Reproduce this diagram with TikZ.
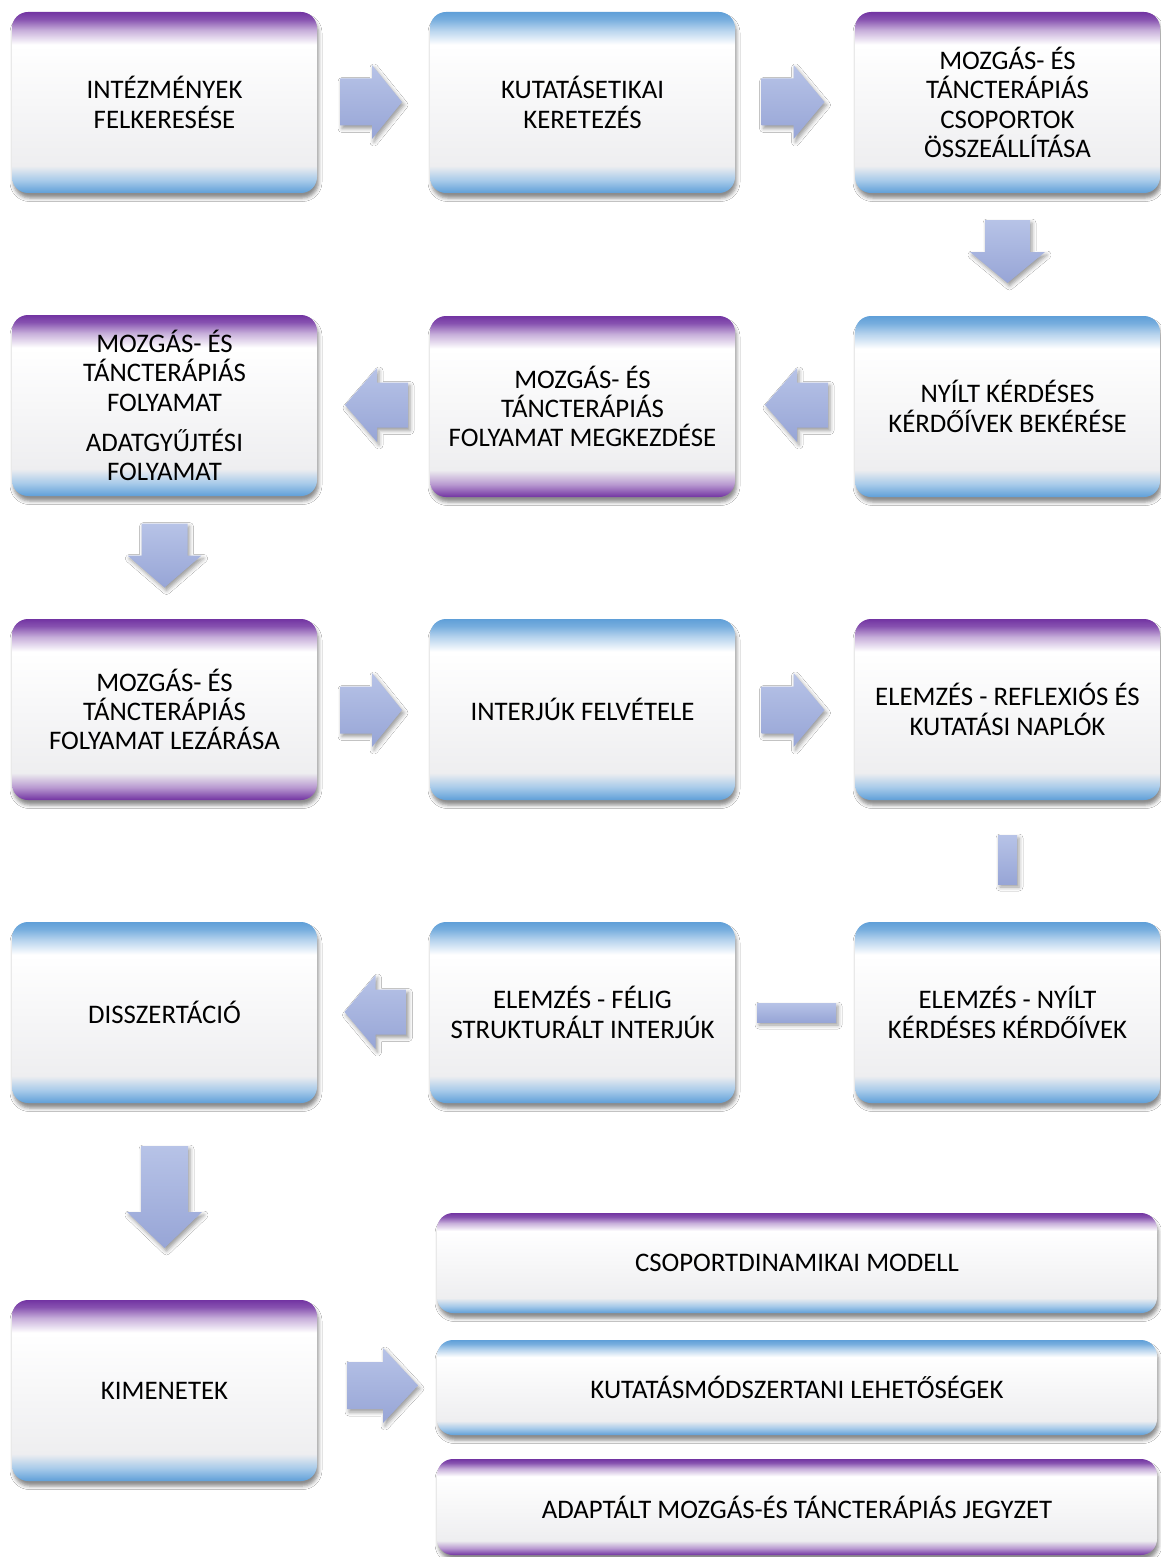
\documentclass[tikz,border=0pt]{standalone}
\usepackage{fontspec}
\setmainfont{Carlito}
\usetikzlibrary{shadows.blur}
\definecolor{cP}{HTML}{7234A2}
\definecolor{cB}{HTML}{5F9FD8}
\definecolor{cMid}{HTML}{EEEEF0}
\definecolor{aTop}{HTML}{B7C3E7}
\definecolor{aBot}{HTML}{97A5D6}
\pgfdeclareverticalshading{shPB}{100bp}{color(0bp)=(cB); color(25bp)=(cB); color(28.5bp)=(cB!55!white); color(32.5bp)=(cMid); color(66bp)=(white); color(70bp)=(cP!40!white); color(73bp)=(cP!85!white); color(75bp)=(cP); color(100bp)=(cP)}
\pgfdeclareverticalshading{shBB}{100bp}{color(0bp)=(cB); color(25bp)=(cB); color(28.5bp)=(cB!55!white); color(32.5bp)=(cMid); color(66bp)=(white); color(70bp)=(cB!45!white); color(73bp)=(cB!85!white); color(75bp)=(cB); color(100bp)=(cB)}
\pgfdeclareverticalshading{shPP}{100bp}{color(0bp)=(cP); color(25bp)=(cP); color(28.5bp)=(cP!50!white); color(32.5bp)=(cMid); color(66bp)=(white); color(70bp)=(cP!40!white); color(73bp)=(cP!85!white); color(75bp)=(cP); color(100bp)=(cP)}
\newcommand\boxfont{\fontsize{26.8}{29.3}\selectfont}
\tikzset{
  box/.style={rectangle, rounded corners=16pt, inner sep=0pt, align=center, font=\boxfont,
    blur shadow={shadow xshift=1.5pt, shadow yshift=-5pt, shadow blur radius=3.5pt, shadow opacity=45}},
  tall/.style={minimum width=305pt, minimum height=181pt},
  PB/.style={shading=shPB}, BB/.style={shading=shBB}, PP/.style={shading=shPP},
  blockarrow/.style={top color=aTop, bottom color=aBot, draw=none,
    blur shadow={shadow xshift=2pt, shadow yshift=-3pt, shadow blur radius=4pt, shadow opacity=40}}
}
% right arrow: cx, cy, length, head length, shaft width, head width
\newcommand\myarrR[6]{\shade[blockarrow] ({#1-#3/2},{#2-#5/2}) -- ({#1+#3/2-#4},{#2-#5/2}) -- ({#1+#3/2-#4},{#2-#6/2}) -- ({#1+#3/2},{#2}) -- ({#1+#3/2-#4},{#2+#6/2}) -- ({#1+#3/2-#4},{#2+#5/2}) -- ({#1-#3/2},{#2+#5/2}) -- cycle;}
\newcommand\myarrL[6]{\shade[blockarrow] ({#1+#3/2},{#2-#5/2}) -- ({#1-#3/2+#4},{#2-#5/2}) -- ({#1-#3/2+#4},{#2-#6/2}) -- ({#1-#3/2},{#2}) -- ({#1-#3/2+#4},{#2+#6/2}) -- ({#1-#3/2+#4},{#2+#5/2}) -- ({#1+#3/2},{#2+#5/2}) -- cycle;}
\newcommand\myarrD[6]{\shade[blockarrow] ({#1-#5/2},{#2-#3/2}) -- ({#1-#5/2},{#2+#3/2-#4}) -- ({#1-#6/2},{#2+#3/2-#4}) -- ({#1},{#2+#3/2}) -- ({#1+#6/2},{#2+#3/2-#4}) -- ({#1+#5/2},{#2+#3/2-#4}) -- ({#1+#5/2},{#2-#3/2}) -- cycle;}
\begin{document}
\begin{tikzpicture}[x=1pt,y=-1pt]
\useasboundingbox[fill=white] (0,0) rectangle (1161,1557);
% row 1
\node[box,tall,PB] (b11) at (164.5,102.5) {INTÉZMÉNYEK\\FELKERESÉSE};
\node[box,tall,BB] (b12) at (582.5,102.5) {KUTATÁSETIKAI\\KERETEZÉS};
\node[box,tall,PB] (b13) at (1007.5,102.5) {MOZGÁS- ÉS\\TÁNCTERÁPIÁS\\CSOPORTOK\\ÖSSZEÁLLÍTÁSA};
% row 2
\node[box,tall,PB] (b21) at (164.5,405.5) {MOZGÁS- ÉS\\TÁNCTERÁPIÁS\\FOLYAMAT\\[11pt]ADATGYŰJTÉSI\\FOLYAMAT};
\node[box,tall,PP] (b22) at (582.5,406.5) {MOZGÁS- ÉS\\TÁNCTERÁPIÁS\\FOLYAMAT MEGKEZDÉSE};
\node[box,tall,BB] (b23) at (1007.5,406.5) {NYÍLT KÉRDÉSES\\KÉRDŐÍVEK BEKÉRÉSE};
% row 3
\node[box,tall,PP] (b31) at (164.5,709.5) {MOZGÁS- ÉS\\TÁNCTERÁPIÁS\\FOLYAMAT LEZÁRÁSA};
\node[box,tall,BB] (b32) at (582.5,709.5) {INTERJÚK FELVÉTELE};
\node[box,tall,PB] (b33) at (1007.5,709.5) {ELEMZÉS - REFLEXIÓS ÉS\\KUTATÁSI NAPLÓK};
% row 4
\node[box,tall,BB] (b41) at (164.5,1012.5) {DISSZERTÁCIÓ};
\node[box,tall,BB] (b42) at (582.5,1012.5) {ELEMZÉS - FÉLIG\\STRUKTURÁLT INTERJÚK};
\node[box,tall,BB] (b43) at (1007.5,1012.5) {ELEMZÉS - NYÍLT\\KÉRDÉSES KÉRDŐÍVEK};
% outputs
\node[box,tall,PB] (b51) at (164.5,1390.5) {KIMENETEK};
\node[box,PB,minimum width=720pt,minimum height=100pt] (o1) at (797,1263) {CSOPORTDINAMIKAI MODELL};
\node[box,BB,minimum width=720pt,minimum height=95pt] (o2) at (797,1387.5) {KUTATÁSMÓDSZERTANI LEHETŐSÉGEK};
\node[box,PP,minimum width=720pt,minimum height=96pt] (o3) at (797,1507) {ADAPTÁLT MOZGÁS-ÉS TÁNCTERÁPIÁS JEGYZET};
% arrows
\myarrR{371}{102}{62}{30}{47}{74}
\myarrR{793}{102}{63}{31}{47}{74}
\myarrD{1007.5}{251.5}{63}{31}{45}{75}
\myarrL{376.5}{405}{63}{32}{45}{74}
\myarrL{796.5}{405}{63}{32}{45}{74}
\myarrD{164.5}{555.5}{64}{32}{46}{74}
\myarrR{371}{710}{62}{30}{47}{74}
\myarrR{793}{710}{63}{31}{47}{74}
\shade[blockarrow] (998,835) rectangle (1017,884);
\shade[blockarrow] (757,1003) rectangle (836,1022);
\myarrL{375.5}{1012}{62}{31}{45}{74}
\myarrD{164.5}{1197}{102}{36}{47}{75}
\myarrR{382.5}{1385.5}{71}{35}{47}{75}
\end{tikzpicture}
\end{document}
